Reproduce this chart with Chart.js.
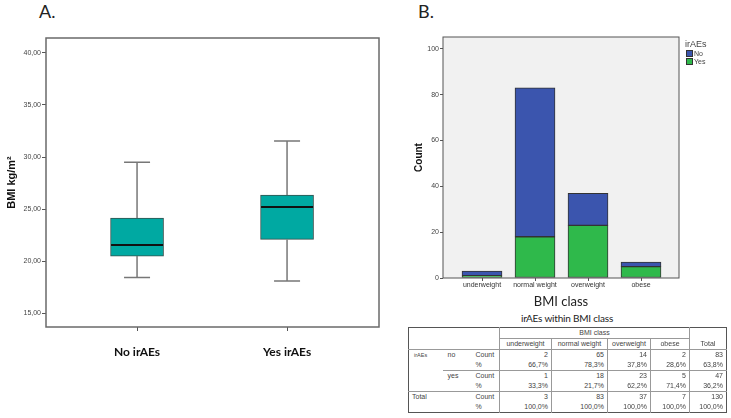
<html>
<head>
<script src="https://cdn.jsdelivr.net/npm/chart.js@4.4.0/dist/chart.umd.min.js"></script>
<style>
  body { margin:0; background:#fff; }
  #page { position:relative; width:731px; height:418px; overflow:hidden; }
  .abs { position:absolute; }
  .panel { font-family:Lato, "Open Sans", sans-serif; font-size:18px; color:#222; }
  #legend { left:685px; top:39px; font-family:"Liberation Sans", Arial, sans-serif; font-size:7px; color:#444; }
  #legend .ttl { font-size:9px; margin-bottom:1px; }
  #legend .item { height:8px; line-height:8px; padding-left:1px; }
  #legend .sw { display:inline-block; width:5px; height:5px; border:1px solid #333; vertical-align:-1px; margin-right:1px; }
  #tblTitle { left:408px; width:318px; top:312px; text-align:center; font-family:Lato, sans-serif; font-size:10px; color:#222; letter-spacing:-0.2px; }
  #tbl { left:408px; top:327px; border-collapse:collapse; border:1px solid #555;
         font-family:"Liberation Sans", Arial, sans-serif; font-size:7px; color:#444; table-layout:fixed; }
  #tbl td { padding:0 3px; height:10px; line-height:10px; white-space:nowrap; overflow:hidden; }
  #tbl td.num { text-align:right; border-left:1px solid #999; }
  #tbl td.hd { text-align:center; border-left:1px solid #999; border-bottom:1px solid #999; }
  #tbl td.bl { border-bottom:1px solid #999; }
  #tbl td.lbl { padding-left:5px; }
</style>
</head>
<body>
<div id="page">
  <div class="abs panel" style="left:39px;top:0px;">A.</div>
  <canvas id="chartA" class="abs" style="left:0;top:0;" width="390" height="372"></canvas>
  <div class="abs panel" style="left:418px;top:0px;">B.</div>
  <canvas id="chartB" class="abs" style="left:395px;top:0;" width="336" height="312"></canvas>
  <div id="legend" class="abs"></div>
  <div id="tblTitle" class="abs">irAEs within BMI class</div>
  <table id="tbl" class="abs"></table>
</div>
<script>
// panel A - BMI by irAEs (box plot)
const boxGroups = ['No irAEs', 'Yes irAEs'];
const boxMin = [18.45, 18.1];
const boxQ1 = [20.5, 22.1];
const boxMedian = [21.55, 25.2];
const boxQ3 = [24.15, 26.35];
const boxMax = [29.5, 31.55];
const bmiTicks = [15, 20, 25, 30, 35, 40];

// panel B - counts per BMI class
const bmiClasses = ['underweight', 'normal weight', 'overweight', 'obese'];
const countNo = [2, 65, 14, 2];
const countYes = [1, 18, 23, 5];
const countTicks = [0, 20, 40, 60, 80, 100];

// crosstab
const totalsNo = 83, totalsYes = 47, totalsAll = 130;
const pctNo = ['66,7%', '78,3%', '37,8%', '28,6%', '63,8%'];
const pctYes = ['33,3%', '21,7%', '62,2%', '71,4%', '36,2%'];
const pctTotal = ['100,0%', '100,0%', '100,0%', '100,0%', '100,0%'];

const tickFont = { family: 'Liberation Sans', size: 7 };

const framePlugin = {
  id: 'frame',
  beforeDraw(chart, args, opts) {
    const a = chart.chartArea, c = chart.ctx;
    if (opts.fill) { c.save(); c.fillStyle = opts.fill; c.fillRect(a.left, a.top, a.right - a.left, a.bottom - a.top); c.restore(); }
  },
  afterDraw(chart, args, opts) {
    const a = chart.chartArea, c = chart.ctx;
    c.save();
    c.strokeStyle = opts.color || '#666';
    c.lineWidth = opts.width || 1;
    c.strokeRect(a.left, a.top, a.right - a.left, a.bottom - a.top);
    c.restore();
  }
};

const whiskerPlugin = {
  id: 'whiskers',
  afterDatasetsDraw(chart) {
    const x = chart.scales.x, y = chart.scales.y, c = chart.ctx;
    c.save();
    boxGroups.forEach((g, i) => {
      const px = x.getPixelForValue(i);
      c.strokeStyle = '#777';
      c.lineWidth = 1.5;
      c.beginPath();
      c.moveTo(px, y.getPixelForValue(boxQ3[i])); c.lineTo(px, y.getPixelForValue(boxMax[i]));
      c.moveTo(px, y.getPixelForValue(boxQ1[i])); c.lineTo(px, y.getPixelForValue(boxMin[i]));
      c.moveTo(px - 13, y.getPixelForValue(boxMax[i])); c.lineTo(px + 13, y.getPixelForValue(boxMax[i]));
      c.moveTo(px - 13, y.getPixelForValue(boxMin[i])); c.lineTo(px + 13, y.getPixelForValue(boxMin[i]));
      c.stroke();
      c.strokeStyle = '#111';
      c.lineWidth = 2;
      c.beginPath();
      c.moveTo(px - 26, y.getPixelForValue(boxMedian[i])); c.lineTo(px + 26, y.getPixelForValue(boxMedian[i]));
      c.stroke();
    });
    c.restore();
  }
};

new Chart(document.getElementById('chartA'), {
  type: 'bar',
  data: {
    datasets: [{
      data: boxGroups.map((g, i) => ({ x: i, y: [boxQ1[i], boxQ3[i]] })),
      backgroundColor: '#00a9a2',
      borderColor: '#36504d',
      borderWidth: 1,
      borderSkipped: false,
      barThickness: 53
    }]
  },
  options: {
    responsive: false, animation: false, devicePixelRatio: 1,
    layout: { padding: { top: 38, right: 11, left: 0, bottom: 0 } },
    plugins: { legend: { display: false }, tooltip: { enabled: false }, frame: { color: '#6a6a6a', width: 1.5 } },
    scales: {
      x: {
        type: 'linear', min: -0.607, max: 1.613, offset: false,
        afterBuildTicks: s => { s.ticks = boxGroups.map((g, i) => ({ value: i })); },
        afterFit: s => { s.height = 45; },
        ticks: { callback: v => boxGroups[v], font: { family: 'Lato', weight: 'bold', size: 12 }, color: '#111', padding: 14, maxRotation: 0 },
        grid: { drawOnChartArea: false, offset: false, tickLength: 4, color: '#555' },
        border: { display: false }
      },
      y: {
        min: 13.69, max: 41.43,
        afterBuildTicks: s => { s.ticks = bmiTicks.map(v => ({ value: v })); },
        afterFit: s => { s.width = 46; },
        ticks: { callback: v => v.toFixed(2).replace('.', ','), font: tickFont, color: '#444', padding: 1 },
        grid: { drawOnChartArea: false, tickLength: 4, color: '#555' },
        border: { display: false },
        title: { display: true, text: 'BMI kg/m²', font: { family: 'Liberation Sans', weight: 'bold', size: 11 }, color: '#111', padding: { top: 5, bottom: 0 } }
      }
    }
  },
  plugins: [framePlugin, whiskerPlugin]
});

new Chart(document.getElementById('chartB'), {
  type: 'bar',
  data: {
    datasets: [
      { label: 'Yes', data: bmiClasses.map((c, i) => ({ x: i, y: countYes[i] })), backgroundColor: '#2fb94b', stack: 's' },
      { label: 'No', data: bmiClasses.map((c, i) => ({ x: i, y: countNo[i] })), backgroundColor: '#3b55ae', stack: 's' }
    ]
  },
  options: {
    responsive: false, animation: false, devicePixelRatio: 1,
    datasets: { bar: { barThickness: 40, borderColor: '#333', borderWidth: 1, borderSkipped: false } },
    layout: { padding: { top: 37, right: 52, left: 0, bottom: 2 } },
    plugins: { legend: { display: false }, tooltip: { enabled: false }, frame: { color: '#555', width: 1, fill: '#f1f1f1' } },
    scales: {
      x: {
        type: 'linear', stacked: true, min: -0.736, max: 3.717, offset: false,
        afterBuildTicks: s => { s.ticks = bmiClasses.map((c, i) => ({ value: i })); },
        afterFit: s => { s.height = 32; },
        ticks: { callback: v => bmiClasses[v], font: tickFont, color: '#333', padding: 0, maxRotation: 0, autoSkip: false },
        grid: { drawOnChartArea: false, offset: false, tickLength: 3, color: '#555' },
        border: { display: false },
        title: { display: true, text: 'BMI class', font: { family: 'Lato', size: 13 }, color: '#222', padding: { top: 0, bottom: 0 } }
      },
      y: {
        stacked: true, min: 0, max: 105.2,
        afterBuildTicks: s => { s.ticks = countTicks.map(v => ({ value: v })); },
        afterFit: s => { s.width = 48; },
        ticks: { font: tickFont, color: '#444', padding: 1 },
        grid: { drawOnChartArea: false, tickLength: 3, color: '#555' },
        border: { display: false },
        title: { display: true, text: 'Count', font: { family: 'Liberation Sans', weight: 'bold', size: 10 }, color: '#111', padding: { top: 18, bottom: 0 } }
      }
    }
  },
  plugins: [framePlugin]
});

// legend
document.getElementById('legend').innerHTML =
  '<div class="ttl">irAEs</div>' +
  '<div class="item"><span class="sw" style="background:#3b55ae"></span>No</div>' +
  '<div class="item"><span class="sw" style="background:#2fb94b"></span>Yes</div>';

// crosstab table
const colW = [34, 28, 29, 52, 56, 43, 39, 37];
function numCells(vals) { return vals.map(v => '<td class="num">' + v + '</td>').join(''); }
function numCellsB(vals) { return vals.map(v => '<td class="num bl">' + v + '</td>').join(''); }
let h = '<colgroup>' + colW.map(w => '<col style="width:' + w + 'px">').join('') + '</colgroup>';
h += '<tr><td colspan="3" rowspan="2" class="bl"></td><td colspan="4" class="hd">BMI class</td>' +
     '<td rowspan="2" class="hd" style="vertical-align:bottom">Total</td></tr>';
h += '<tr>' + bmiClasses.map(c => '<td class="hd">' + c + '</td>').join('') + '</tr>';
h += '<tr><td rowspan="4" class="bl lbl" style="font-size:5.5px;vertical-align:top">irAEs</td>' +
     '<td rowspan="2" class="bl lbl" style="vertical-align:top">no</td><td class="lbl">Count</td>' +
     numCells(countNo.concat([totalsNo])) + '</tr>';
h += '<tr><td class="bl lbl">%</td>' + numCellsB(pctNo) + '</tr>';
h += '<tr><td rowspan="2" class="bl lbl" style="vertical-align:top">yes</td><td class="lbl">Count</td>' +
     numCells(countYes.concat([totalsYes])) + '</tr>';
h += '<tr><td class="bl lbl">%</td>' + numCellsB(pctYes) + '</tr>';
h += '<tr><td colspan="2" rowspan="2" style="vertical-align:top;padding-left:3px">Total</td><td class="lbl">Count</td>' +
     numCells(countYes.map((v, i) => v + countNo[i]).concat([totalsAll])) + '</tr>';
h += '<tr><td class="lbl">%</td>' + numCells(pctTotal) + '</tr>';
document.getElementById('tbl').innerHTML = h;
</script>
</body>
</html>
